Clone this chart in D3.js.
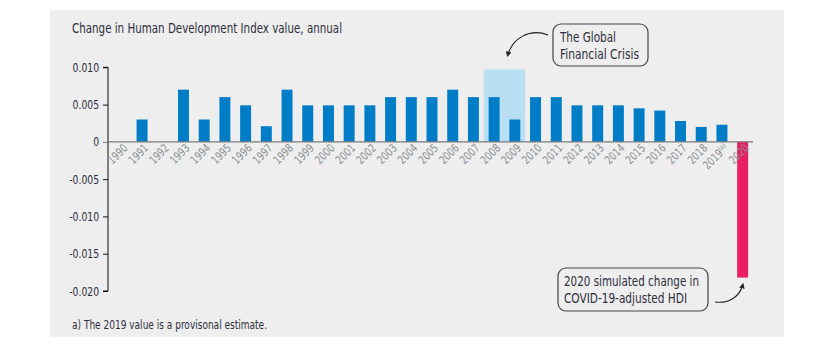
<!DOCTYPE html>
<html>
<head>
<meta charset="utf-8">
<script src="https://cdn.jsdelivr.net/npm/d3@7"></script>
<style>
    body{margin:0;background:#fff;}
    text{font-family:"Liberation Sans Narrow","DejaVu Sans Condensed","Roboto Condensed",sans-serif;}
    .ylab{fill:#2b2a3a;font-size:12.5px;}
    .xlab{fill:#8c8f93;font-size:11.5px;}
</style>
</head>
<body>
<script>
    var years=['1990','1991','1992','1993','1994','1995','1996','1997','1998','1999','2000','2001','2002','2003','2004','2005',
        '2006','2007','2008','2009','2010','2011','2012','2013','2014','2015','2016','2017','2018','2019','2020'];
    var hdiChange=[0,0.003,0,0.007,0.003,0.006,0.0049,0.0021,0.007,0.0049,0.0049,0.0049,0.0049,0.006,0.006,0.006,
        0.007,0.006,0.006,0.003,0.006,0.006,0.0049,0.0049,0.0049,0.0045,0.0042,0.0028,0.002,0.0023,-0.0182];
    var yTicks=[0.010,0.005,0,-0.005,-0.010,-0.015,-0.020];
    var yTickLabels=['0.010','0.005','0','-0.005','-0.010','-0.015','-0.020'];
    var crisisYears=['2008','2009'];
    var crisisTop=0.0097;

    var w=828,h=363;
    var svg=d3.select('body').append('svg').attr('width',w).attr('height',h);

    // squeeze text to look like the condensed face of the original
    function condense(sel,k){
        sel.each(function(){
            var L=this.getComputedTextLength();
            d3.select(this).attr('textLength',L*k).attr('lengthAdjust','spacingAndGlyphs');
        });
    }
    function fitTo(sel,len){
        sel.attr('textLength',len).attr('lengthAdjust','spacingAndGlyphs');
    }

    // grey panel
    svg.append('rect').attr('x',50).attr('y',10).attr('width',734).attr('height',327).attr('fill','#edeeed');

    var x=d3.scaleBand().domain(years).range([111,753]).paddingInner(0.47).paddingOuter(0.235);
    var y=d3.scaleLinear().domain([-0.020,0.010]).range([291,67.3]);

    // highlight for the crisis years
    var hx0=x(crisisYears[0])-x.step()*x.paddingInner()/2;
    var hx1=x(crisisYears[1])+x.bandwidth()+x.step()*x.paddingInner()/2;
    svg.append('rect').attr('x',hx0).attr('y',y(crisisTop))
        .attr('width',hx1-hx0).attr('height',y(0)-y(crisisTop)).attr('fill','#b9dff5');

    // bars
    svg.selectAll('.bar').data(years).enter().append('rect')
        .attr('class','bar')
        .attr('x',function(d){return x(d)})
        .attr('width',x.bandwidth())
        .attr('y',function(d,i){return y(Math.max(0,hdiChange[i]))})
        .attr('height',function(d,i){return Math.abs(y(hdiChange[i])-y(0))})
        .attr('fill',function(d,i){return hdiChange[i]<0?'#e91e63':'#007dc6'});

    // zero line
    svg.append('line').attr('x1',108).attr('x2',753).attr('y1',y(0)).attr('y2',y(0))
        .attr('stroke','#7a7a7a').attr('stroke-width',1.2);

    // y axis
    var yAxis=d3.axisLeft(y).tickValues(yTicks).tickSize(5).tickPadding(4)
        .tickFormat(function(d,i){return yTickLabels[i]});
    var gy=svg.append('g').attr('transform','translate(108,0)').call(yAxis);
    gy.select('.domain').attr('stroke','#111').attr('d','M-5,'+y(0.010)+'H0V'+y(-0.020)+'H-5');
    gy.selectAll('.tick line').attr('stroke','#111');
    gy.selectAll('.tick').filter(function(d){return d===0}).select('line').attr('stroke','#7a7a7a');
    gy.selectAll('text').attr('class','ylab').attr('fill',null);
    condense(gy.selectAll('text'),0.82);

    // x labels, rotated
    var xl=svg.selectAll('.xl').data(years).enter().append('text')
        .attr('class','xlab')
        .attr('text-anchor','end')
        .attr('transform',function(d){return 'translate('+(x(d)+x.bandwidth()/2+7)+','+(y(0)+7)+') rotate(-45)'})
        .text(function(d){return d});
    xl.filter(function(d){return d==='2019'}).append('tspan')
        .attr('font-size','7px').attr('dy','-4').text('(a)');
    condense(xl,0.85);

    // title + footnote
    fitTo(svg.append('text').attr('x',72).attr('y',33).attr('fill','#2f2e3c').attr('font-size','14.5px')
        .text('Change in Human Development Index value, annual'),270);
    fitTo(svg.append('text').attr('x',72).attr('y',329).attr('fill','#2f2e3c').attr('font-size','12px')
        .text('a) The 2019 value is a provisonal estimate.'),195);

    // annotations
    svg.append('defs').append('marker').attr('id','ah').attr('viewBox','0 0 10 10')
        .attr('refX',8).attr('refY',5).attr('markerWidth',5).attr('markerHeight',5).attr('orient','auto')
        .append('path').attr('d','M0,0L10,5L0,10z').attr('fill','#222');

    function note(bx,by,bw,bh,lines,widths,tx,ty){
        svg.append('rect').attr('x',bx).attr('y',by).attr('width',bw).attr('height',bh)
            .attr('rx',8).attr('fill','#edeeed').attr('stroke','#444').attr('stroke-width',1.2);
        lines.forEach(function(s,i){
            fitTo(svg.append('text').attr('x',tx).attr('y',ty+i*17).attr('fill','#2f2e3c')
                .attr('font-size','14px').text(s),widths[i]);
        });
    }
    note(553,24,95,42,['The Global','Financial Crisis'],[56,79],560,42);
    svg.append('path').attr('d','M548,35 C530,28 512,38 507.5,56').attr('fill','none')
        .attr('stroke','#222').attr('stroke-width',1.1).attr('marker-end','url(#ah)');

    note(558,268,150,43,['2020 simulated change in','COVID-19-adjusted HDI'],[135,123],564,286);
    svg.append('path').attr('d','M715,302 C730,304 740,296 743,284').attr('fill','none')
        .attr('stroke','#222').attr('stroke-width',1.1).attr('marker-end','url(#ah)');
</script>
</body>
</html>
